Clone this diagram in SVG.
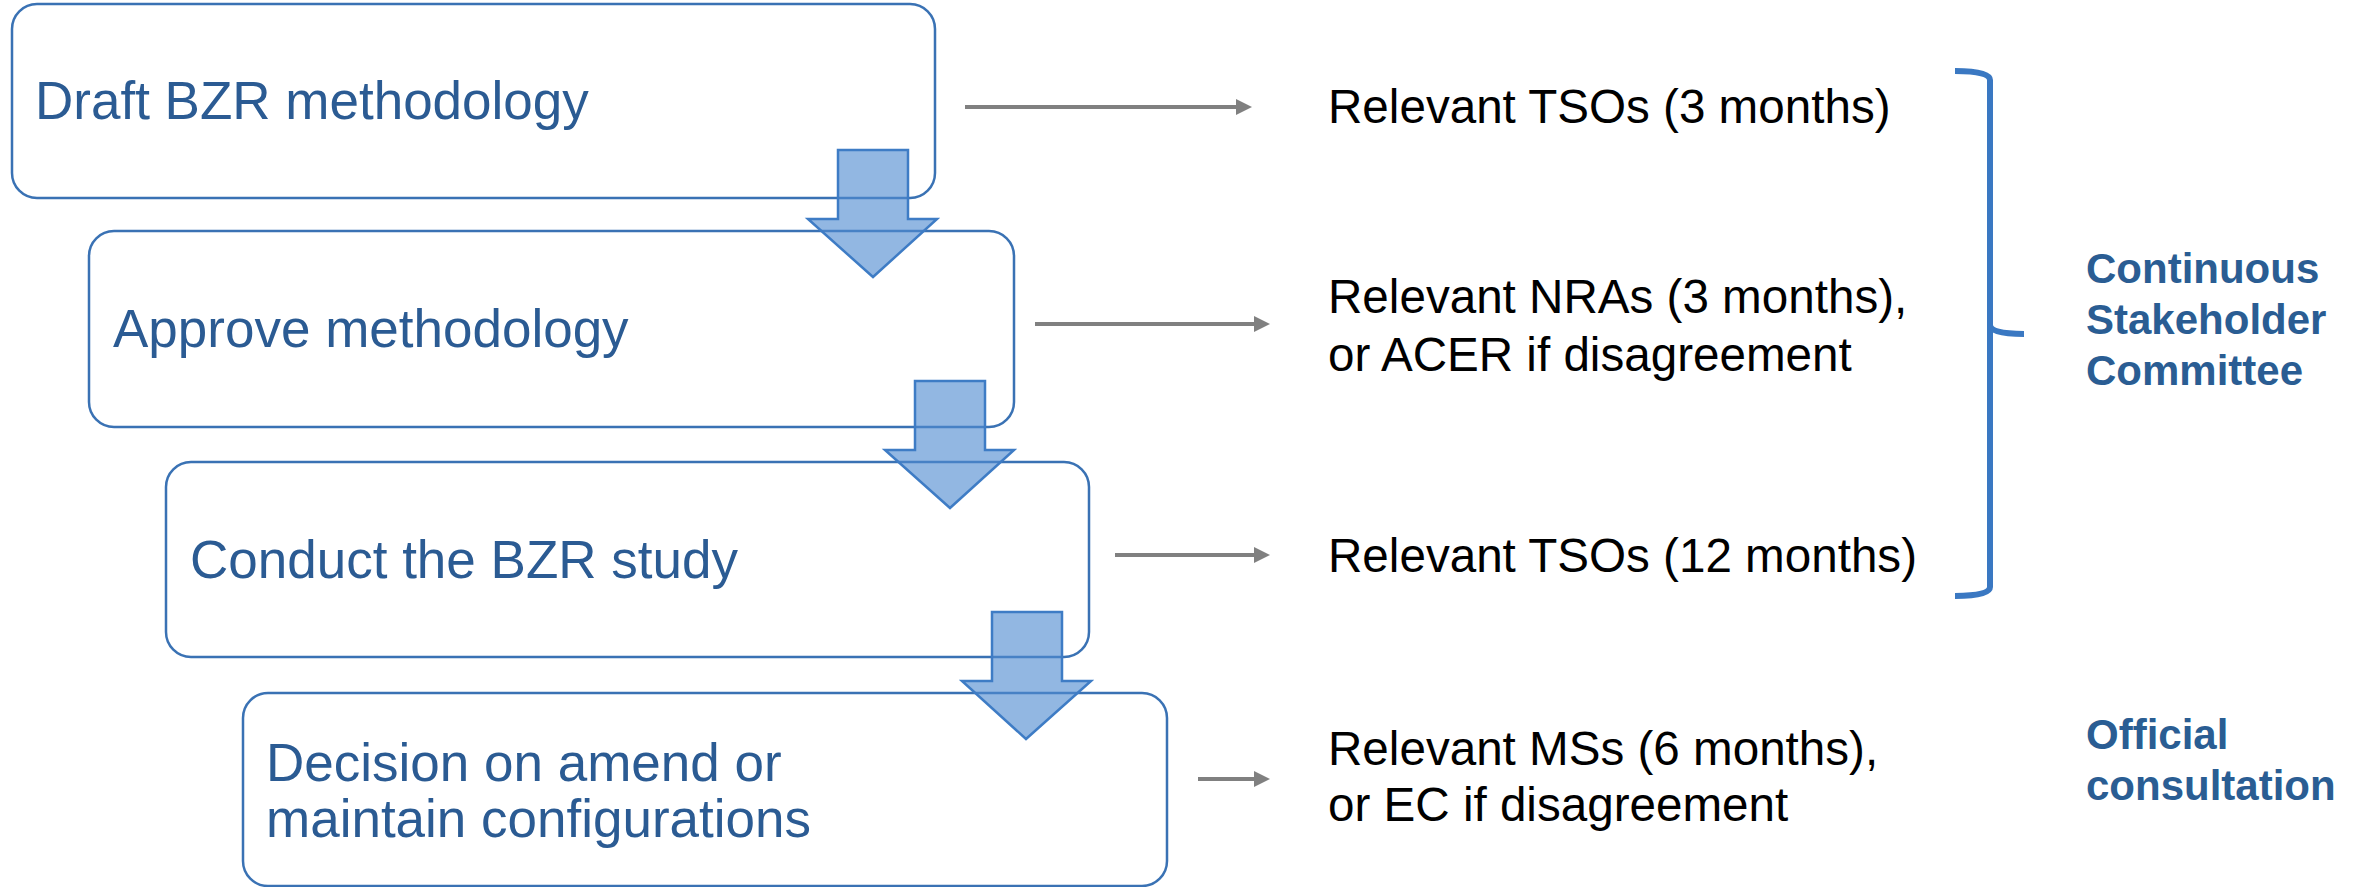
<svg xmlns="http://www.w3.org/2000/svg" width="2358" height="887" viewBox="0 0 2358 887">
<defs>
<style>
.box{fill:#ffffff;stroke:#3A72B4;stroke-width:2.5}
.bt{font-family:"Liberation Sans",Arial,sans-serif;font-size:53px;fill:#2B5B93}
.rt{font-family:"Liberation Sans",Arial,sans-serif;font-size:47.6px;fill:#000000}
.lt{font-family:"Liberation Sans",Arial,sans-serif;font-size:42px;font-weight:bold;fill:#2A5D93}
.dn{fill:#4F8BD0;fill-opacity:0.62;stroke:#3E7CC5;stroke-width:2.5;stroke-linejoin:miter}
.ga{stroke:#808080;stroke-width:4;fill:none}
</style>
<marker id="ah" markerUnits="userSpaceOnUse" markerWidth="16" markerHeight="16" viewBox="0 0 16 16" refX="1" refY="8" orient="auto">
<path d="M0,0 L16,8 L0,16 Z" fill="#808080"/>
</marker>
</defs>
<rect width="2358" height="887" fill="#ffffff"/>
<g id="node-draft">
<rect class="box" x="12" y="4" width="923" height="194" rx="25" ry="25"/>
<text class="bt" x="35" y="119">Draft BZR methodology</text>
</g>
<g id="node-approve">
<rect class="box" x="89" y="231" width="925" height="196" rx="25" ry="25"/>
<text class="bt" x="113" y="347">Approve methodology</text>
</g>
<g id="node-conduct">
<rect class="box" x="166" y="462" width="923" height="195" rx="25" ry="25"/>
<text class="bt" x="190" y="578">Conduct the BZR study</text>
</g>
<g id="node-decision">
<rect class="box" x="243" y="693" width="924" height="193" rx="25" ry="25"/>
<text class="bt" x="266" y="781">Decision on amend or</text>
<text class="bt" x="266" y="837">maintain configurations</text>
</g>
<g id="connectors">
<path class="dn" d="M838,150 H908 V219 H937 L873,277 L808,219 H838 Z"/>
<path class="dn" d="M915,381 H985 V450 H1014 L950,508 L885,450 H915 Z"/>
<path class="dn" d="M992,612 H1062 V681 H1091 L1026,739 L962,681 H992 Z"/>
<line class="ga" x1="965" y1="107" x2="1237" y2="107" marker-end="url(#ah)"/>
<line class="ga" x1="1035" y1="324" x2="1255" y2="324" marker-end="url(#ah)"/>
<line class="ga" x1="1115" y1="555" x2="1255" y2="555" marker-end="url(#ah)"/>
<line class="ga" x1="1198" y1="779" x2="1255" y2="779" marker-end="url(#ah)"/>
</g>
<g id="node-tso3">
<text class="rt" x="1328" y="123">Relevant TSOs (3 months)</text>
</g>
<g id="node-nra">
<text class="rt" x="1328" y="313">Relevant NRAs (3 months),</text>
<text class="rt" x="1328" y="371">or ACER if disagreement</text>
</g>
<g id="node-tso12">
<text class="rt" x="1328" y="572">Relevant TSOs (12 months)</text>
</g>
<g id="node-ms">
<text class="rt" x="1328" y="765">Relevant MSs (6 months),</text>
<text class="rt" x="1328" y="821">or EC if disagreement</text>
</g>
<g id="bracket">
<path d="M1955,71 Q1990,71 1990,80 V325 Q1990,334 2024,334 M1990,325 Q1990,334 1990,343 V587 Q1990,596 1955,596" fill="none" stroke="#3A78C2" stroke-width="6"/>
</g>
<g id="label-csc">
<text class="lt" x="2086" y="283">Continuous</text>
<text class="lt" x="2086" y="334">Stakeholder</text>
<text class="lt" x="2086" y="385">Committee</text>
</g>
<g id="label-official">
<text class="lt" x="2086" y="749">Official</text>
<text class="lt" x="2086" y="800">consultation</text>
</g>
</svg>
